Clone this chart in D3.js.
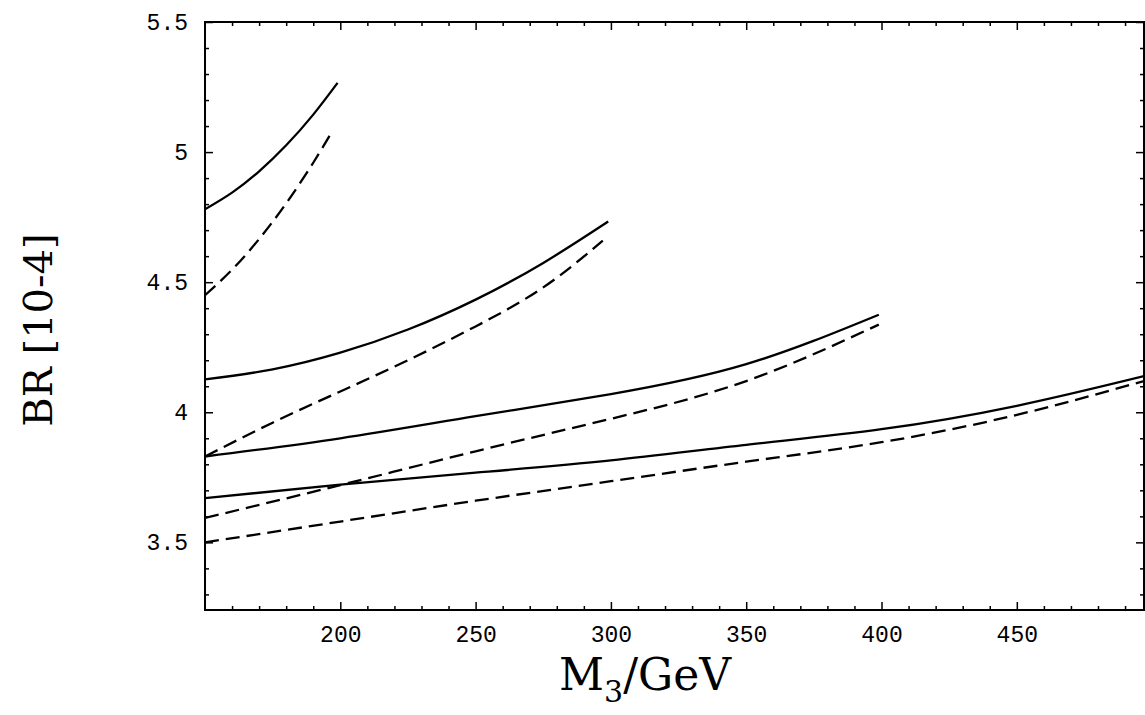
<!DOCTYPE html>
<html>
<head>
<meta charset="utf-8">
<script src="https://cdn.jsdelivr.net/npm/d3@7"></script>
<style>
  body { margin: 0; background: #fff; }
  .tick text { font-family: "Liberation Mono", monospace; font-size: 23px; fill: #000; }
  .domain { display: none; }
  .tick line { stroke: #000; stroke-width: 1.5; }
</style>
</head>
<body>
<svg id="chart" width="1145" height="715"></svg>
<script>
// ***************** DATA ********************
var xMajor = [200, 250, 300, 350, 400, 450];
var yMajor = [3.5, 4, 4.5, 5, 5.5];
var yLabels = ["3.5", "4", "4.5", "5", "5.5"];

// M3 values and BR values (10^-4), one pair of curves per mass cut-off
var m1 = [150, 160, 170, 180, 190, 199];
var solid1 = [4.78, 4.844, 4.926, 5.026, 5.144, 5.266];
var m1d = [150, 160, 170, 180, 190, 197];
var dashed1 = [4.45, 4.548, 4.666, 4.803, 4.959, 5.08];

var m2 = [150, 175, 200, 225, 250, 275, 299];
var solid2 = [4.126, 4.165, 4.229, 4.318, 4.433, 4.574, 4.733];
var m2d = [150, 175, 200, 225, 250, 275, 297];
var dashed2 = [3.83, 3.96, 4.08, 4.20, 4.33, 4.48, 4.66];

var m3 = [150, 200, 250, 300, 350, 399];
var solid3 = [3.83, 3.90, 3.985, 4.07, 4.185, 4.375];
var dashed3 = [3.594, 3.72, 3.85, 3.975, 4.12, 4.337];

var m4 = [150, 200, 250, 300, 350, 400, 450, 497];
var solid4 = [3.67, 3.722, 3.768, 3.815, 3.875, 3.935, 4.025, 4.139];
var dashed4 = [3.5, 3.58, 3.66, 3.735, 3.81, 3.885, 3.99, 4.12];

var series = [
  {m: m1, v: solid1, dash: null}, {m: m1d, v: dashed1, dash: "14,7"},
  {m: m2, v: solid2, dash: null}, {m: m2d, v: dashed2, dash: "14,7"},
  {m: m3, v: solid3, dash: null}, {m: m3, v: dashed3, dash: "14,7"},
  {m: m4, v: solid4, dash: null}, {m: m4, v: dashed4, dash: "14,7"}
];

// ***************** LAYOUT ********************
var margin = {left: 205, right: 1144, top: 22, bottom: 610};
var svg = d3.select("#chart");

var x = d3.scaleLinear().domain([150, 497]).range([margin.left, margin.right]);
var y = d3.scaleLinear().domain([3.24, 5.5]).range([margin.bottom, margin.top]);

var xMinor = d3.range(160, 500, 10).filter(function(d){ return d % 50 !== 0; });
var yMinor = d3.range(33, 55, 1).map(function(d){ return d / 10; })
  .filter(function(d){ return Math.abs(d * 2 - Math.round(d * 2)) > 1e-6; });

// ************************ AXES *************************
var addAxis = function(axis, transform, values, size, labels){
  var g = svg.append("g")
    .attr("transform", transform)
    .call(axis.tickValues(values).tickSize(size).tickSizeOuter(0)
      .tickFormat(labels || ""));
  return g;
};

// bottom
addAxis(d3.axisBottom(x), "translate(0," + margin.bottom + ")", xMinor, -4);
var bx = addAxis(d3.axisBottom(x), "translate(0," + margin.bottom + ")", xMajor, -8, d3.format("d"));
bx.selectAll("text").attr("y", 16).attr("dy", "0.71em");
// top
addAxis(d3.axisTop(x), "translate(0," + margin.top + ")", xMinor, -4);
addAxis(d3.axisTop(x), "translate(0," + margin.top + ")", xMajor, -8);
// left
addAxis(d3.axisLeft(y), "translate(" + margin.left + ",0)", yMinor, -4);
var ly = addAxis(d3.axisLeft(y), "translate(" + margin.left + ",0)", yMajor, -8,
  function(d, i){ return yLabels[i]; });
ly.selectAll("text").attr("x", -17);
// right
addAxis(d3.axisRight(y), "translate(" + margin.right + ",0)", yMinor, -4);
addAxis(d3.axisRight(y), "translate(" + margin.right + ",0)", yMajor, -8);

// frame
svg.append("rect")
  .attr("x", margin.left).attr("y", margin.top)
  .attr("width", margin.right - margin.left)
  .attr("height", margin.bottom - margin.top)
  .attr("fill", "none").attr("stroke", "#000").attr("stroke-width", 2);

// ************************ CURVES *************************
var line = d3.line()
  .x(function(d){ return x(d[0]); })
  .y(function(d){ return y(d[1]); })
  .curve(d3.curveNatural);

svg.append("clipPath").attr("id", "clip")
  .append("rect")
  .attr("x", margin.left).attr("y", margin.top)
  .attr("width", margin.right - margin.left)
  .attr("height", margin.bottom - margin.top);

svg.append("g").attr("clip-path", "url(#clip)")
  .selectAll("path")
  .data(series)
  .enter()
  .append("path")
  .attr("d", function(s){ return line(s.m.map(function(m, i){ return [m, s.v[i]]; })); })
  .attr("fill", "none")
  .attr("stroke", "#000")
  .attr("stroke-width", 2.3)
  .attr("stroke-dasharray", function(s){ return s.dash; });

// ************************ TITLES *************************
var xt = svg.append("text")
  .attr("x", 645).attr("y", 690)
  .attr("text-anchor", "middle")
  .style("font-family", "'DejaVu Serif', serif")
  .style("font-size", "44px");
xt.append("tspan").text("M");
xt.append("tspan").attr("dy", 12).style("font-size", "30px").text("3");
xt.append("tspan").attr("dy", -12).text("/GeV");

svg.append("text")
  .attr("transform", "translate(52,330) rotate(-90)")
  .attr("text-anchor", "middle")
  .style("font-family", "'DejaVu Serif', serif")
  .style("font-size", "40px")
  .text("BR [10-4]");
</script>
</body>
</html>
